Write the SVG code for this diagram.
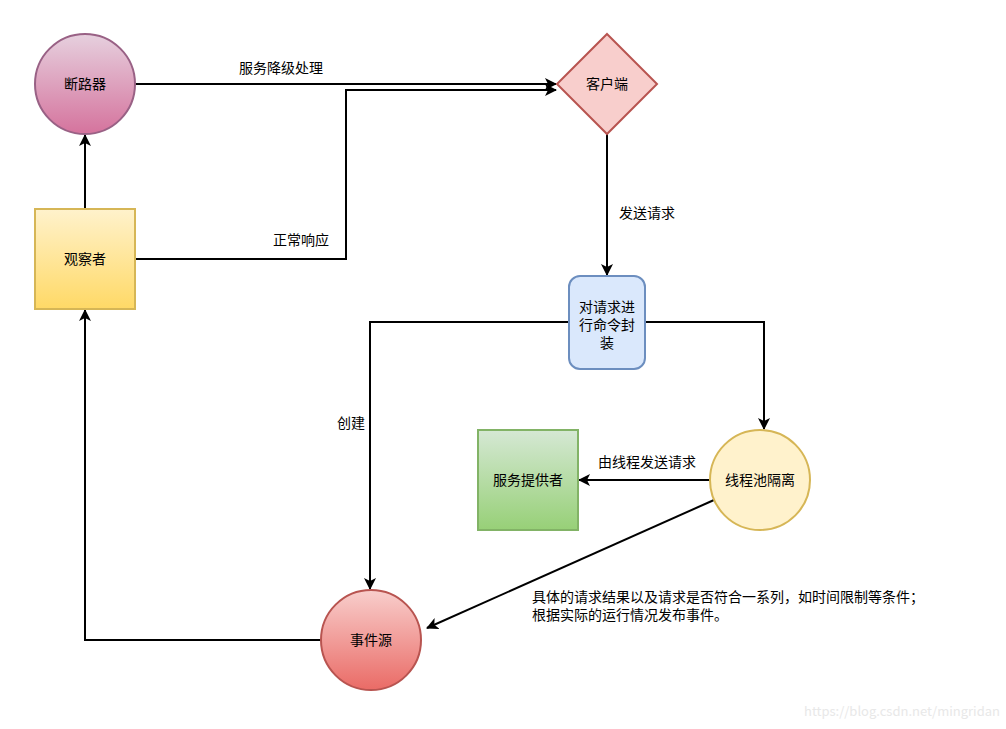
<svg xmlns="http://www.w3.org/2000/svg" width="1006" height="729" viewBox="0 0 1006 729">
<style>
text{font-family:"Noto Sans CJK SC","Liberation Sans",sans-serif;font-size:14px;fill:#000}
.c{text-anchor:middle}
.e{fill:none;stroke:#000;stroke-width:2}
.n{stroke-width:2}
</style>
<defs>
<linearGradient id="gPink" x1="0" y1="0" x2="0" y2="1"><stop offset="0" stop-color="#e6d0de"/><stop offset="1" stop-color="#d5739d"/></linearGradient>
<linearGradient id="gYel" x1="0" y1="0" x2="0" y2="1"><stop offset="0" stop-color="#fff2cc"/><stop offset="1" stop-color="#ffd966"/></linearGradient>
<linearGradient id="gGreen" x1="0" y1="0" x2="0" y2="1"><stop offset="0" stop-color="#d5e8d4"/><stop offset="1" stop-color="#97d077"/></linearGradient>
<linearGradient id="gRed" x1="0" y1="0" x2="0" y2="1"><stop offset="0" stop-color="#f8cecc"/><stop offset="1" stop-color="#ea6b66"/></linearGradient>
<marker id="arr" viewBox="0 0 12 12" refX="11" refY="6" markerWidth="12" markerHeight="12" markerUnits="userSpaceOnUse" orient="auto">
<path d="M0,0 L12,6 L0,12 L3,6 Z" fill="#000"/>
</marker>
</defs>
<rect width="1006" height="729" fill="#fff"/>
<g id="connectors">
<path class="e" d="M135,84 L556,84" marker-end="url(#arr)"/>
<text class="c" x="281" y="73">服务降级处理</text>
<path class="e" d="M135,259 L346,259 L346,90 L556,90" marker-end="url(#arr)"/>
<text class="c" x="301" y="245">正常响应</text>
<path class="e" d="M85,209 L85,135" marker-end="url(#arr)"/>
<path class="e" d="M607,134 L607,275" marker-end="url(#arr)"/>
<text class="c" x="647" y="218">发送请求</text>
<path class="e" d="M645,322 L764,322 L764,429" marker-end="url(#arr)"/>
<path class="e" d="M569,322 L370,322 L370,589" marker-end="url(#arr)"/>
<text class="c" x="351" y="428">创建</text>
<path class="e" d="M710,480 L579,480" marker-end="url(#arr)"/>
<text class="c" x="647" y="467">由线程发送请求</text>
<path class="e" d="M714,500 L427,628" marker-end="url(#arr)"/>
<text x="532" y="602">具体的请求结果以及请求是否符合一系列，如时间限制等条件；</text>
<text x="532" y="620">根据实际的运行情况发布事件。</text>
<path class="e" d="M321,640 L85,640 L85,310" marker-end="url(#arr)"/>
</g>
<g id="node-breaker">
<circle class="n" cx="85" cy="84" r="50" fill="url(#gPink)" stroke="#996185"/>
<text class="c" x="85" y="89">断路器</text>
</g>
<g id="node-observer">
<rect class="n" x="35" y="209" width="100" height="100" fill="url(#gYel)" stroke="#d6b656"/>
<text class="c" x="85" y="264">观察者</text>
</g>
<g id="node-client">
<polygon class="n" points="607,34 657,84 607,134 557,84" fill="#f8cecc" stroke="#b85450"/>
<text class="c" x="607" y="89">客户端</text>
</g>
<g id="node-command">
<rect class="n" x="569" y="276" width="76" height="93" rx="11" fill="#dae8fc" stroke="#6c8ebf"/>
<text class="c" x="607" y="312">对请求进</text>
<text class="c" x="607" y="330">行命令封</text>
<text class="c" x="607" y="348">装</text>
</g>
<g id="node-pool">
<ellipse class="n" cx="760" cy="480" rx="50" ry="50" fill="#fff2cc" stroke="#d6b656"/>
<text class="c" x="760" y="485">线程池隔离</text>
</g>
<g id="node-provider">
<rect class="n" x="478" y="430" width="100" height="100" fill="url(#gGreen)" stroke="#82b366"/>
<text class="c" x="528" y="485">服务提供者</text>
</g>
<g id="node-source">
<ellipse class="n" cx="371" cy="640" rx="50" ry="50" fill="url(#gRed)" stroke="#b85450"/>
<text class="c" x="371" y="645">事件源</text>
</g>
<text x="1000" y="716" style="text-anchor:end;font-size:13px;fill:#e8e8e8">https://blog.csdn.net/mingridan</text>
</svg>
